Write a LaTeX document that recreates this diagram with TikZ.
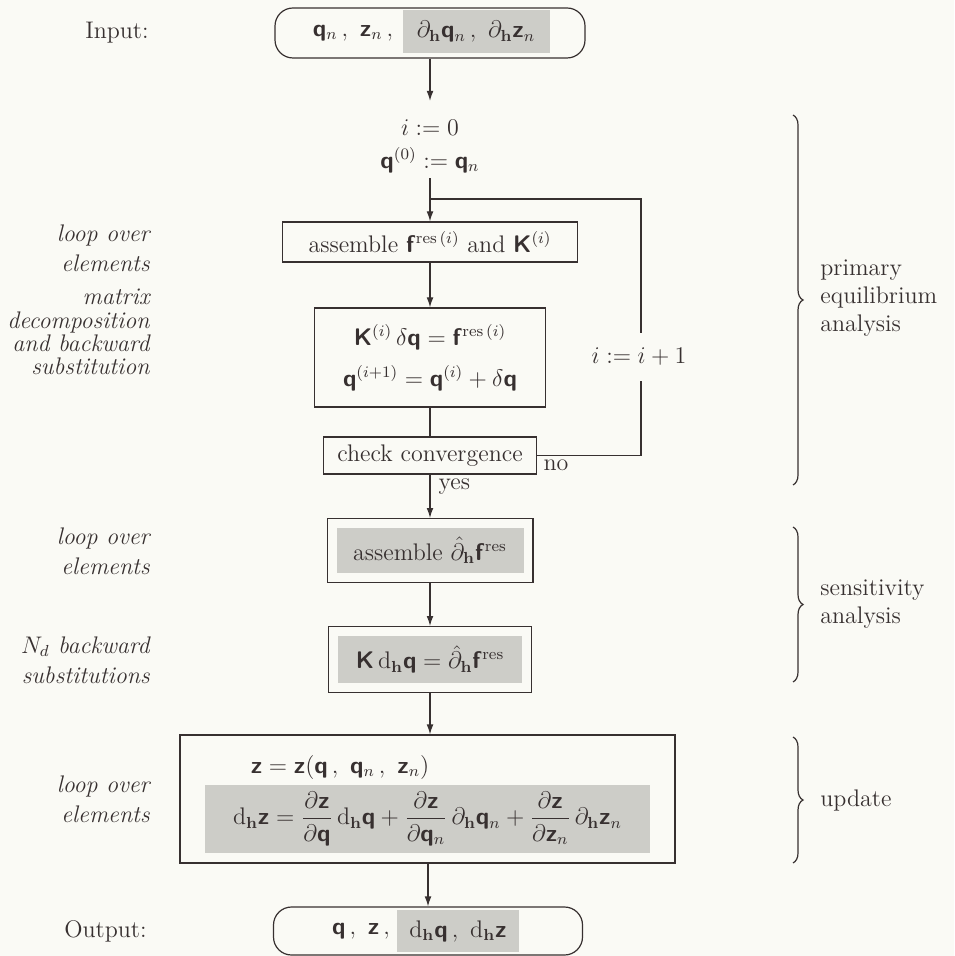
\documentclass[tikz,border=0pt]{standalone}
\usetikzlibrary{arrows.meta,decorations.pathreplacing,fit}
\DeclareMathAlphabet{\mathbsf}{OT1}{cmss}{bx}{n}
\newcommand{\bq}{\mathbsf{q}}
\newcommand{\bz}{\mathbsf{z}}
\newcommand{\bK}{\mathbsf{K}}
\newcommand{\bF}{\mathbsf{f}}
\newcommand{\hh}{\mathbf{h}}
\definecolor{bg}{RGB}{250,250,245}
\definecolor{ink}{RGB}{55,48,48}
\definecolor{shade}{RGB}{205,205,200}
\begin{document}
\begin{tikzpicture}[x=0.5pt,y=-0.5pt,
  every node/.style={font=\fontsize{12}{14.5}\selectfont, text=ink},
  frame/.style={draw=ink, line width=0.6pt, inner sep=0pt},
  rbox/.style={draw=ink, line width=0.6pt, rounded corners=9pt, inner sep=0pt},
  shd/.style={fill=shade, inner sep=0pt},
  ln/.style={draw=ink, line width=0.6pt},
  arr/.style={draw=ink, line width=0.6pt, -{Latex[length=5pt,width=3.4pt]}},
  lab/.style={anchor=east, align=right, inner sep=0pt, font=\fontsize{12}{15}\selectfont\itshape},
  brc/.style={draw=ink, line width=0.6pt, decorate, decoration={brace, amplitude=5pt}},
  side/.style={anchor=west, align=left, inner sep=0pt, font=\fontsize{12}{14}\selectfont}]
\fill[bg] (0,0) rectangle (954,956);
\useasboundingbox (0,0) rectangle (954,956);

% input
\node[rbox, minimum width=155pt, minimum height=25pt] (in) at (430,33) {};
\node[shd, minimum width=73.5pt, minimum height=21.5pt] (in2) at (476,31.5) {$\partial_{\hh}\bq_n\,,\ \partial_{\hh}\bz_n$};
\node (in1) at (353,33) {$\bq_n\,,\ \bz_n\,,$};
\node[lab, font=\fontsize{12}{14.5}\selectfont] (inl) at (149,33) {Input:};

% init
\node[inner sep=0pt, align=center] (init) at (430,146) {$i:=0$\\[2pt]$\bq^{(0)}:=\bq_n$};

% primary loop
\node[frame, minimum width=147.5pt, minimum height=20pt] (asm) at (430,242) {assemble $\bF^{\mathrm{res}\,(i)}$ and $\bK^{(i)}$};
\node[frame, minimum width=115.5pt, minimum height=49.5pt, align=center] (mat) at (430,357.5) {$\bK^{(i)}\,\delta\bq=\bF^{\mathrm{res}\,(i)}$\\[6pt]$\bq^{(i+1)}=\bq^{(i)}+\delta\bq$};
\node[frame, minimum width=106.5pt, minimum height=18.5pt] (conv) at (430,455.5) {check convergence};

% sensitivity
\node[shd, minimum width=93.5pt, minimum height=22.5pt] (s1t) at (430,550.5) {assemble $\hat{\partial}_{\hh}\bF^{\mathrm{res}}$};
\node[frame, fit=(s1t), inner sep=4.5pt] (s1) {};
\node[shd, minimum width=92pt, minimum height=23.5pt] (s2t) at (430,659.5) {$\bK\,\mathrm{d}_{\hh}\bq=\hat{\partial}_{\hh}\bF^{\mathrm{res}}$};
\node[frame, fit=(s2t), inner sep=4.5pt] (s2) {};

% update
\node[frame, minimum width=247.5pt, minimum height=64pt] (upd) at (427.5,799) {};
\node (u1) at (340,767) {$\bz=\bz(\bq\,,\ \bq_n\,,\ \bz_n)$};
\node[shd, minimum width=222.5pt, minimum height=34pt] (u2) at (427.5,819) {$\displaystyle \mathrm{d}_{\hh}\bz=\frac{\partial\bz}{\partial\bq}\,\mathrm{d}_{\hh}\bq+\frac{\partial\bz}{\partial\bq_n}\,\partial_{\hh}\bq_n+\frac{\partial\bz}{\partial\bz_n}\,\partial_{\hh}\bz_n$};

% output
\node[rbox, minimum width=154.5pt, minimum height=24pt] (out) at (428,931) {};
\node[shd, minimum width=61pt, minimum height=21pt] (out2) at (458,931) {$\mathrm{d}_{\hh}\bq\,,\ \mathrm{d}_{\hh}\bz$};
\node (out1) at (361,931) {$\bq\,,\ \bz\,,$};
\node[lab, font=\fontsize{12}{14.5}\selectfont] (outl) at (147,931) {Output:};

% left labels
\node[lab] (l1) at (150,248) {loop over\\elements};
\node[lab, font=\fontsize{12}{11.6}\selectfont\itshape] (l2) at (150,332) {matrix\\decomposition\\and backward\\substitution};
\node[lab] (l3) at (150,551) {loop over\\elements};
\node[lab] (l4) at (150,660) {$N_d$ backward\\substitutions};
\node[lab] (l5) at (150,799) {loop over\\elements};

% connectors
\draw[arr, shorten >=9pt] (in.south) -- (init.north);
\draw[arr, shorten <=2.5pt] (init.south) -- (asm.north);
\draw[arr] (asm.south) -- (mat.north);
\draw[ln] (mat.south) -- (conv.north);
\draw[arr] (conv.south) -- node[right, pos=0.28, inner sep=4pt] (yes) {yes} (s1.north);
\draw[arr] (s1.south) -- (s2.north);
\draw[arr] (s2.south) -- (s2.south |- upd.north);
\draw[arr] (upd.south -| out.north) -- (out.north);

% loop back
\coordinate (lpR) at (641,199);
\coordinate (lpL) at (430,199);
\draw[ln] (conv.east) -| (lpR) -- (lpL);
\node[fill=bg, minimum height=24pt, inner xsep=2pt, inner ysep=0pt] (inc) at (639,357) {$i:=i+1$};
\node[anchor=north west, inner sep=2pt] (no) at ([xshift=1pt]conv.east) {no};

% braces
\coordinate (b1t) at (793,115); \coordinate (b1b) at (793,485);
\coordinate (b2t) at (793,527); \coordinate (b2b) at (793,682);
\coordinate (b3t) at (793,737); \coordinate (b3b) at (793,863);
\draw[brc] (b1t) -- (b1b);
\draw[brc] (b2t) -- (b2b);
\draw[brc] (b3t) -- (b3b);
\node[side] (t1) at (820,298) {primary\\equilibrium\\analysis};
\node[side] (t2) at (820,604) {sensitivity\\analysis};
\node[side] (t3) at (820,800) {update};
\end{tikzpicture}
\end{document}
